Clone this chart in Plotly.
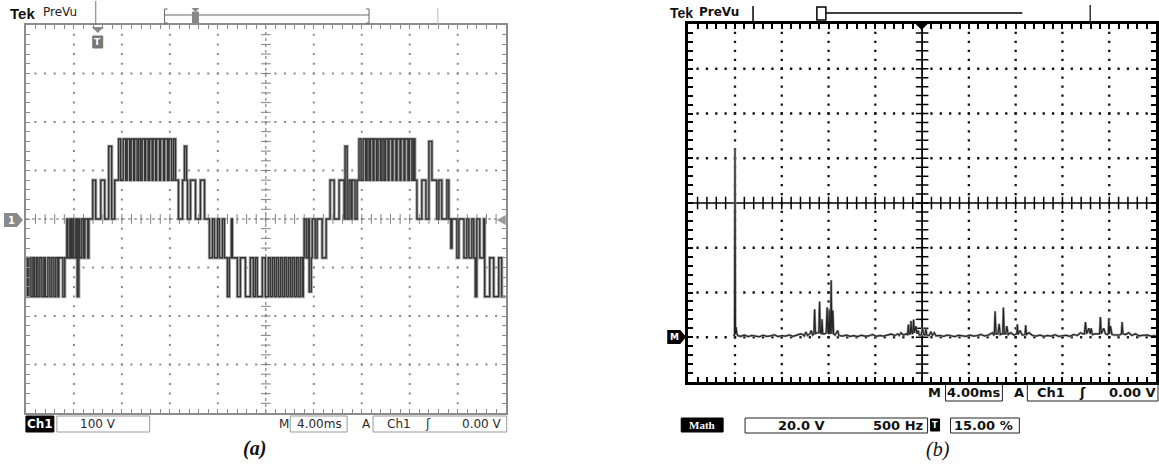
import plotly.graph_objects as go

W, H = 1159, 466

# ---------------- data: (a) multilevel inverter output voltage (step edges) ----------------
wave_t_ms = [
    0.00, 0.12, 0.25, 0.42, 0.58, 0.71, 0.87, 1.00, 1.16, 1.33, 1.50, 1.62, 1.83, 2.00, 2.16, 2.33, 2.49, 2.66, 2.74, 3.08, 3.24,
    3.41, 3.49, 3.66, 3.78, 3.91, 3.99, 4.16, 4.28, 4.41, 4.49, 4.66, 4.82, 4.91, 5.16, 5.24,
    5.57, 5.82, 6.24, 6.57, 6.90, 7.15, 7.40,
    7.73, 7.90, 8.11, 8.32, 8.44, 8.65, 8.77, 8.98, 9.06, 9.27, 9.40, 9.56, 9.69, 9.90, 9.98,
    10.19, 10.31, 10.52, 10.60, 10.81, 10.89, 11.14, 11.23, 11.48, 11.56, 11.81, 11.93, 12.14, 12.31, 12.47,
    12.72, 13.06, 13.22, 13.39, 13.47, 13.72, 14.14, 14.55, 14.89,
    15.30, 15.55, 15.72, 15.97, 16.13, 16.38, 16.55,
    16.80, 16.96, 17.13, 17.21, 17.63, 17.88, 18.30, 18.71, 18.96, 19.13, 19.29, 19.71, 19.96, 20.21, 20.37,
    20.54, 20.71, 20.87, 21.04, 21.21, 21.37, 21.54, 21.70, 21.87, 22.04, 22.20, 22.37, 22.54, 22.70, 22.87,
    23.04, 23.12, 23.20, 23.37, 23.54, 23.62, 23.79, 23.87, 24.12, 24.28, 24.70, 25.03,
    25.36, 25.70, 26.11, 26.53, 26.61, 26.78, 26.94, 27.11, 27.19, 27.44, 27.61,
    27.77, 27.94, 28.11, 28.32, 28.44, 28.61, 28.73, 28.94, 29.02, 29.23, 29.36, 29.56, 29.69, 29.85, 29.98,
    30.19, 30.27, 30.52, 30.60, 30.85, 30.94, 31.19, 31.27, 31.52, 31.60, 31.85, 31.97, 32.18, 32.31, 32.43,
    32.60, 33.01, 33.35, 33.60, 33.85, 34.26, 34.43, 34.68, 35.10, 35.26,
    35.43, 35.52, 35.93, 36.10, 36.52, 36.76, 36.93, 37.18, 37.34, 37.47, 37.59, 37.84, 38.17,
    38.25, 38.67, 39.00, 39.42, 39.67, 40.00,
]
wave_v = [
    -80, -160, -80, -160, -80, -160, -80, -160, -80, -160, -80, -160, -80, -160, -80, -160, -80, -160, -80, -160, -80,
    0, -80, 0, -80, 0, -80, 0, -160, 0, -80, 0, -80, 0, -80, 0,
    80, 0, 80, 0, 150, 0, 80,
    165, 80, 165, 80, 165, 80, 165, 80, 165, 80, 165, 80, 165, 80, 165,
    80, 165, 80, 165, 80, 165, 80, 165, 80, 165, 80, 165, 80, 165, 80,
    0, 80, 150, 80, 0, 80, 0, 80, 0,
    -80, 0, -80, 0, -80, 0, -80,
    -160, -80, 0, -80, -160, -80, -160, -80, -160, -80, -160, -80, -160, -80, -160,
    -80, -160, -80, -160, -80, -160, -80, -160, -80, -160, -80, -160, -80, -160, -80,
    -160, -80, 0, -80, 0, -150, -80, 0, -80, 0, -80, 0,
    80, 0, 80, 0, 150, 0, 80, 0, 80, 0, 80,
    165, 80, 165, 80, 165, 80, 165, 80, 165, 80, 165, 80, 165, 80, 165,
    80, 165, 80, 165, 80, 165, 80, 165, 80, 165, 80, 165, 80, 165, 80,
    0, 80, 0, 160, 80, 0, 80, 0, 80, 0,
    -60, 0, -80, 0, -80, 0, -80, 0, -80, -160, 0, -80, 0,
    -160, -80, -160, -80, -160, -160,
]

# ---------------- data: (b) FFT magnitude (Hz, V) ----------------
spec_freq_hz = [
    30, 45, 50, 55, 62, 70, 80,
    110, 150, 190, 230, 270, 310, 350, 390, 430, 470, 510, 550, 590, 630, 670, 710, 750,
    776, 790, 808, 825, 850, 865, 880,
    893, 901, 910, 925, 946, 954, 962, 972, 980, 988,
    1010, 1025, 1035, 1043, 1050, 1057, 1064, 1071, 1078, 1086, 1096, 1104, 1120, 1149, 1160,
    1200, 1240, 1280, 1320, 1360, 1400, 1440, 1480, 1520, 1560, 1600, 1640, 1680, 1720, 1760,
    1789, 1805, 1824, 1850, 1880, 1895, 1903, 1912, 1924, 1931, 1940, 1950, 1959, 1968, 1984, 1996, 2009, 2020,
    2040, 2055, 2065, 2080, 2091, 2100, 2125, 2144, 2160, 2180, 2200,
    2240, 2280, 2320, 2360, 2400, 2440, 2480, 2520, 2560, 2600, 2640, 2680, 2720, 2760,
    2802, 2815, 2822, 2830, 2840, 2860, 2873, 2885, 2905, 2912, 2919, 2928, 2945, 2955, 2970,
    2998, 3030, 3055, 3062, 3068, 3076, 3097, 3120, 3145, 3151, 3157, 3165, 3193, 3230,
    3270, 3310, 3350, 3390, 3430, 3470, 3510, 3550, 3590, 3630, 3670, 3710,
    3743, 3770, 3785, 3796, 3808, 3832, 3845, 3857, 3870, 3900, 3930, 3947, 3956, 3965, 3992,
    4010, 4030, 4040, 4046, 4054, 4063, 4080, 4110, 4160, 4180, 4188, 4196, 4225, 4259,
    4290, 4330, 4370, 4410, 4454, 4500, 4545,
]
spec_amp_v = [
    0.8, 1.0, 84.0, 1.5, 4.5, 1.5, 0.8,
    0.4, 1.0, 0.3, 0.8, 0.5, 0.2, 0.9, 0.4, 0.6, 1.1, 0.3, 0.7, 0.5, 1.0, 0.4, 0.9, 1.5,
    1.2, 0.6, 2.4, 0.8, 1.5, 3.0, 1.0,
    1.5, 12.5, 1.5, 2.0, 2.0, 16.0, 2.0, 1.5, 8.0, 1.5,
    1.5, 2.0, 13.4, 2.0, 1.5, 12.0, 1.5, 2.0, 25.5, 1.5, 12.0, 1.5, 1.0, 3.0, 0.8,
    0.5, 1.0, 0.4, 0.7, 0.3, 0.9, 0.5, 0.6, 1.2, 0.4, 0.8, 0.5, 1.0, 1.4, 0.8,
    1.5, 0.8, 2.0, 1.0, 1.5, 1.2, 5.7, 1.5, 1.5, 7.3, 2.0, 1.5, 7.9, 2.0, 5.0, 1.5, 3.0, 1.0,
    1.0, 4.3, 1.2, 1.0, 3.8, 1.0, 0.8, 2.5, 0.8, 2.0, 0.6,
    0.8, 0.4, 1.0, 0.5, 0.3, 0.9, 0.6, 0.4, 1.0, 0.5, 0.8, 1.2, 0.6, 1.0,
    2.0, 1.0, 1.2, 11.6, 1.5, 1.5, 6.0, 1.2, 1.5, 1.5, 13.3, 1.5, 1.5, 5.0, 1.2,
    2.0, 1.0, 1.2, 1.5, 5.8, 1.2, 3.0, 1.0, 1.2, 1.5, 5.4, 1.2, 2.0, 0.8,
    0.5, 1.0, 0.4, 0.8, 0.5, 1.1, 0.4, 0.7, 0.9, 0.4, 1.2, 0.8,
    2.0, 1.5, 1.5, 6.8, 1.5, 4.0, 1.5, 4.0, 1.2, 1.5, 1.5, 1.5, 9.0, 1.5, 4.0,
    1.5, 1.2, 1.5, 8.6, 1.5, 5.0, 1.2, 1.0, 1.0, 1.5, 6.8, 1.5, 1.2, 2.0,
    0.8, 1.5, 0.6, 0.9, 1.0, 0.5, 0.8,
]

# scope settings (per division)
a_ms_per_div, a_v_per_div = 4.0, 100.0
b_hz_per_div, b_v_per_div = 500.0, 20.0
b_f_left, b_v_bottom = -450.0, -20.0
n_hdiv, n_vdiv, n_minor = 10, 8, 5

# ---------------- helpers (pixel -> paper) ----------------
def px(x):
    return x / W


def py(y):
    return 1 - y / H


def t_ann(x, y, s, size=12, color="#2a2a2a", family="DejaVu Sans", xanchor="center"):
    return dict(x=px(x), y=py(y), xref="paper", yref="paper", text=s, showarrow=False,
                xanchor=xanchor, yanchor="middle", font=dict(size=size, color=color, family=family))


def s_rect(x0, y0, x1, y1, color, fill="rgba(0,0,0,0)", lw=1):
    return dict(type="rect", xref="paper", yref="paper", x0=px(x0), x1=px(x1), y0=py(y1), y1=py(y0),
                line=dict(color=color, width=lw), fillcolor=fill, layer="above")


def s_line(x0, y0, x1, y1, color, lw=1):
    return dict(type="line", xref="paper", yref="paper", x0=px(x0), x1=px(x1), y0=py(y0), y1=py(y1),
                line=dict(color=color, width=lw), layer="above")


def s_path(pts, fill, color="rgba(0,0,0,0)"):
    d = "M " + " L ".join(f"{px(x):.5f} {py(y):.5f}" for x, y in pts) + " Z"
    return dict(type="path", xref="paper", yref="paper", path=d, fillcolor=fill,
                line=dict(color=color, width=0.5), layer="above")


fig = go.Figure()

# ---------------- panel (a) graticule ----------------
a_x_major = [a_ms_per_div * i for i in range(1, n_hdiv) if i != n_hdiv // 2]
a_y_major = [-a_v_per_div * n_vdiv / 2 + a_v_per_div * j for j in range(1, n_vdiv) if j != n_vdiv // 2]
a_x_minor = [a_ms_per_div / n_minor * k for k in range(1, n_hdiv * n_minor)]
a_y_minor = [-a_v_per_div * n_vdiv / 2 + a_v_per_div / n_minor * k for k in range(1, n_vdiv * n_minor)]
gx, gy = [], []
for xm in a_x_major:
    for ym in a_y_minor:
        gx.append(xm); gy.append(ym)
for ym in a_y_major:
    for xm in a_x_minor:
        gx.append(xm); gy.append(ym)
fig.add_trace(go.Scatter(x=gx, y=gy, mode="markers", xaxis="x", yaxis="y", hoverinfo="skip",
                         marker=dict(symbol="square", size=2, color="#8a8a8a", line=dict(width=0))))
a_cx = a_ms_per_div * n_hdiv / 2
fig.add_trace(go.Scatter(x=[a_cx] * len(a_y_minor), y=a_y_minor, mode="markers", xaxis="x", yaxis="y",
                         hoverinfo="skip",
                         marker=dict(symbol="line-ew", size=7, line=dict(width=1, color="#808080"))))
fig.add_trace(go.Scatter(x=a_x_minor, y=[0] * len(a_x_minor), mode="markers", xaxis="x", yaxis="y",
                         hoverinfo="skip",
                         marker=dict(symbol="line-ns", size=7, line=dict(width=1, color="#808080"))))

# waveform: light persistence halo + dark trace
fig.add_trace(go.Scatter(x=wave_t_ms, y=wave_v, mode="lines", xaxis="x", yaxis="y", hoverinfo="skip",
                         line=dict(color="#a6a6a6", width=3.2, shape="hv")))
fig.add_trace(go.Scatter(x=wave_t_ms, y=wave_v, mode="lines", xaxis="x", yaxis="y", hoverinfo="skip",
                         line=dict(color="#333333", width=1.4, shape="hv")))

# ---------------- panel (b) graticule ----------------
b_x_major = [b_f_left + b_hz_per_div * i for i in range(1, n_hdiv) if i != n_hdiv // 2]
b_y_major = [b_v_bottom + b_v_per_div * j for j in range(1, n_vdiv) if j != n_vdiv // 2]
b_x_minor = [b_f_left + b_hz_per_div / n_minor * k for k in range(1, n_hdiv * n_minor)]
b_y_minor = [b_v_bottom + b_v_per_div / n_minor * k for k in range(1, n_vdiv * n_minor)]
hx, hy = [], []
for xm in b_x_major:
    for ym in b_y_minor:
        hx.append(xm); hy.append(ym)
for ym in b_y_major:
    for xm in b_x_minor:
        hx.append(xm); hy.append(ym)
fig.add_trace(go.Scatter(x=hx, y=hy, mode="markers", xaxis="x2", yaxis="y2", hoverinfo="skip",
                         marker=dict(symbol="square", size=2.3, color="#111", line=dict(width=0))))
b_cx = b_f_left + b_hz_per_div * n_hdiv / 2
b_cy = b_v_bottom + b_v_per_div * n_vdiv / 2
fig.add_trace(go.Scatter(x=[b_cx] * len(b_y_minor), y=b_y_minor, mode="markers", xaxis="x2", yaxis="y2",
                         hoverinfo="skip",
                         marker=dict(symbol="line-ew", size=9, line=dict(width=1.5, color="#000"))))
fig.add_trace(go.Scatter(x=b_x_minor, y=[b_cy] * len(b_x_minor), mode="markers", xaxis="x2", yaxis="y2",
                         hoverinfo="skip",
                         marker=dict(symbol="line-ns", size=9, line=dict(width=1.5, color="#000"))))

fig.add_trace(go.Scatter(x=spec_freq_hz, y=spec_amp_v, mode="lines", xaxis="x2", yaxis="y2", hoverinfo="skip",
                         line=dict(color="#9a9a9a", width=2.4)))
fig.add_trace(go.Scatter(x=spec_freq_hz, y=spec_amp_v, mode="lines", xaxis="x2", yaxis="y2", hoverinfo="skip",
                         line=dict(color="#222222", width=1.1)))

# ---------------- axes ----------------
ax_common = dict(showgrid=False, zeroline=False, showticklabels=False, ticks="inside", mirror="ticks",
                 showline=True, fixedrange=True)
fig.update_layout(
    width=W, height=H, margin=dict(l=0, r=0, t=0, b=0),
    paper_bgcolor="white", plot_bgcolor="white", showlegend=False,
    xaxis=dict(domain=[px(26), px(507)], range=[0, a_ms_per_div * n_hdiv], anchor="y",
               tick0=0, dtick=a_ms_per_div / n_minor, ticklen=4, tickcolor="#8c8c8c",
               linecolor="#8c8c8c", linewidth=2, **ax_common),
    yaxis=dict(domain=[py(413), py(25)], range=[-a_v_per_div * n_vdiv / 2, a_v_per_div * n_vdiv / 2],
               anchor="x", tick0=0, dtick=a_v_per_div / n_minor, ticklen=4, tickcolor="#8c8c8c",
               linecolor="#8c8c8c", linewidth=2, **ax_common),
    xaxis2=dict(domain=[px(690), 1.0], range=[b_f_left, b_f_left + b_hz_per_div * n_hdiv], anchor="y2",
                tick0=b_f_left, dtick=b_hz_per_div / n_minor, ticklen=5, tickcolor="#000", tickwidth=1.5,
                linecolor="#000", linewidth=3, **ax_common),
    yaxis2=dict(domain=[py(382), py(24)], range=[b_v_bottom, b_v_bottom + b_v_per_div * n_vdiv], anchor="x2",
                tick0=b_v_bottom, dtick=b_v_per_div / n_minor, ticklen=5, tickcolor="#000", tickwidth=1.5,
                linecolor="#000", linewidth=3, **ax_common),
)

shapes = []
ann = []

# center lines (a) and (b)
shapes.append(dict(type="line", xref="x", yref="y", x0=a_cx, x1=a_cx, y0=-400, y1=400,
                   line=dict(color="#6a6a6a", width=1, dash="dot"), layer="below"))
shapes.append(dict(type="line", xref="x", yref="y", x0=0, x1=40, y0=0, y1=0,
                   line=dict(color="#6a6a6a", width=1, dash="dot"), layer="below"))
shapes.append(dict(type="line", xref="x2", yref="y2", x0=b_cx, x1=b_cx, y0=b_v_bottom, y1=140,
                   line=dict(color="#000", width=1.8), layer="below"))
shapes.append(dict(type="line", xref="x2", yref="y2", x0=b_f_left, x1=4550, y0=b_cy, y1=b_cy,
                   line=dict(color="#000", width=1.5), layer="below"))

# ---- (a) header ----
ann.append(t_ann(8, 13, "<b>Tek</b>", size=15, color="#111", family="Liberation Sans", xanchor="left"))
ann.append(t_ann(41, 12, "PreVu", size=12, color="#222", family="DejaVu Sans", xanchor="left"))
shapes.append(s_line(96, 1, 96, 25, "#777", 1))
shapes.append(s_line(165, 15, 370, 15, "#666", 1))
shapes += [s_line(165, 9, 165, 23, "#666", 1), s_line(165, 9, 168, 9, "#666", 1), s_line(165, 23, 168, 23, "#666", 1),
           s_line(370, 9, 370, 23, "#666", 1), s_line(367, 9, 370, 9, "#666", 1), s_line(367, 23, 370, 23, "#666", 1)]
shapes.append(s_path([(192, 8), (200, 8), (196, 12)], "#888"))
shapes.append(s_rect(193, 12, 199, 23, "#888", "#888"))
shapes.append(s_line(439, 8, 439, 25, "#bbb", 1))
shapes.append(s_path([(92, 27), (104, 27), (98, 33)], "#888"))
shapes.append(s_rect(93, 36, 103, 48, "#777", "#777"))
ann.append(t_ann(98, 42, "<b>T</b>", size=9, color="white"))
shapes.append(s_path([(4, 213), (17, 213), (23, 220), (17, 227), (4, 227)], "#8a8a8a"))
ann.append(t_ann(12, 220, "<b>1</b>", size=10, color="white"))
shapes.append(s_path([(498, 220), (507, 215), (507, 225)], "#999"))

# ---- (a) status bar ----
shapes.append(s_rect(26, 416, 54, 432, "#000", "#000"))
ann.append(t_ann(40, 424, "<b>Ch1</b>", size=12, color="white"))
shapes.append(s_rect(57, 416, 150, 432, "#9a9a9a"))
ann.append(t_ann(98, 424, "100 V", size=12))
ann.append(t_ann(285, 424, "M", size=12))
shapes.append(s_rect(291, 416, 348, 432, "#9a9a9a"))
ann.append(t_ann(320, 424, "4.00ms", size=12))
ann.append(t_ann(367, 424, "A", size=12))
shapes.append(s_rect(374, 416, 508, 432, "#9a9a9a"))
ann.append(t_ann(400, 424, "Ch1", size=12))
ann.append(t_ann(429, 424, "ʃ", size=12))
ann.append(t_ann(483, 424, "0.00 V", size=12))
ann.append(t_ann(255, 448, "<b><i>(a)</i></b>", size=20, color="#111", family="Liberation Serif"))

# ---- (b) header ----
ann.append(t_ann(670, 13, "<b>Tek</b>", size=14, color="#111", family="Liberation Sans", xanchor="left"))
ann.append(t_ann(699, 12, "<b>PreVu</b>", size=12, color="#111", family="DejaVu Sans", xanchor="left"))
shapes.append(s_line(755, 6, 755, 22, "#000", 1.5))
shapes.append(s_rect(819, 7, 828, 20, "#000", "rgba(0,0,0,0)", 1.5))
shapes.append(s_line(828, 13, 1025, 13, "#000", 1.5))
shapes.append(s_line(1093, 5, 1093, 22, "#000", 1.2))
shapes.append(s_path([(918, 24), (930, 24), (924, 30)], "#000"))
shapes.append(s_path([(669, 330), (682, 330), (688, 337), (682, 344), (669, 344)], "#000"))
ann.append(t_ann(676, 337, "<b>M</b>", size=9, color="white"))

# ---- (b) status bar ----
ann.append(t_ann(937, 392, "<b>M</b>", size=13, color="#111"))
shapes.append(s_rect(948, 384, 1005, 401, "#222"))
ann.append(t_ann(977, 392, "<b>4.00ms</b>", size=13, color="#111"))
ann.append(t_ann(1022, 392, "<b>A</b>", size=13, color="#111"))
shapes.append(s_rect(1030, 384, 1161, 401, "#222"))
ann.append(t_ann(1054, 392, "<b>Ch1</b>", size=13, color="#111"))
ann.append(t_ann(1085, 392, "<b>ʃ</b>", size=13, color="#111"))
ann.append(t_ann(1135, 392, "<b>0.00 V</b>", size=13, color="#111"))
shapes.append(s_rect(683, 418, 725, 432, "#000", "#000"))
ann.append(t_ann(704, 425, "<b>Math</b>", size=11, color="white", family="Liberation Serif"))
shapes.append(s_rect(747, 418, 930, 433, "#222"))
ann.append(t_ann(804, 425, "<b>20.0 V</b>", size=13, color="#111"))
ann.append(t_ann(900, 425, "<b>500 Hz</b>", size=13, color="#111"))
shapes.append(s_rect(933, 419, 942, 431, "#000", "#000"))
ann.append(t_ann(937.5, 425, "<b>T</b>", size=8, color="white"))
shapes.append(s_rect(953, 418, 1022, 433, "#222"))
ann.append(t_ann(986, 425, "<b>15.00 %</b>", size=13, color="#111"))
ann.append(t_ann(940, 449, "<i>(b)</i>", size=20, color="#111", family="Liberation Serif"))

fig.update_layout(shapes=shapes, annotations=ann)
fig.write_html("out.html", config={"displayModeBar": False},
               post_script="document.body.style.margin='0px';document.body.style.overflow='hidden';")
